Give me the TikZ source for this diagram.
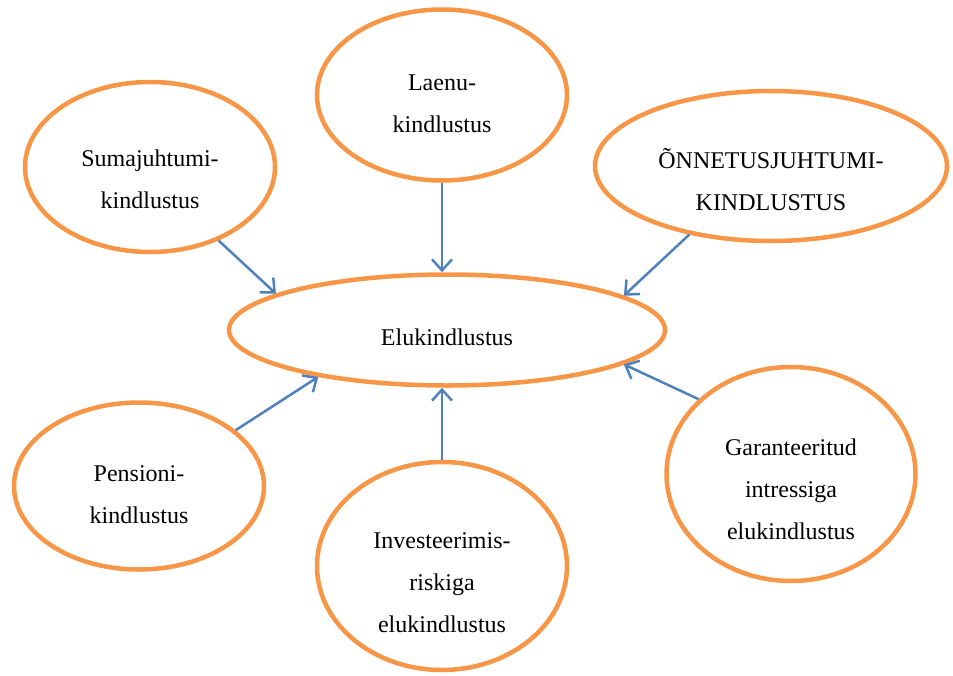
\documentclass[tikz,border=0pt]{standalone}
\usepackage{fontspec}
\setmainfont{Liberation Serif}
\usetikzlibrary{shapes.geometric,arrows.meta}
\definecolor{ringorange}{HTML}{F79646}
\definecolor{arrowblue}{HTML}{4F81BD}
\begin{document}
\begin{tikzpicture}[x=1pt,y=-1pt,
  ring/.style={ellipse,draw=ringorange,line width=4.5pt,fill=white,inner sep=0pt},
  lbl/.style={align=center,font=\fontsize{24}{42}\selectfont,inner sep=0pt},
  link/.style={draw=arrowblue,line width=2.5pt,-{Straight Barb[length=11pt,width=20pt]}}]
\useasboundingbox (0,0) rectangle (953,675);
% ellipses
\node[ring,minimum width=250pt,minimum height=170pt] (S) at (150,167) {};
\node[ring,minimum width=250pt,minimum height=171pt] (L) at (442,95) {};
\node[ring,minimum width=352pt,minimum height=150pt] (O) at (771,166) {};
\node[ring,minimum width=436pt,minimum height=111pt] (E) at (447,330) {};
\node[ring,minimum width=250pt,minimum height=167pt] (P) at (139,486) {};
\node[ring,minimum width=250pt,minimum height=208pt] (I) at (442,566) {};
\node[ring,minimum width=249pt,minimum height=214pt] (G) at (791,474) {};
% labels
\node[lbl] (tS) at (150,179) {Sumajuhtumi-\\kindlustus};
\node[lbl] (tL) at (442,104) {Laenu-\\kindlustus};
\node[lbl] (tO) at (771,180) {ÕNNETUSJUHTUMI-\\KINDLUSTUS};
\node[lbl] (tE) at (447,337) {Elukindlustus};
\node[lbl] (tP) at (139,495) {Pensioni-\\kindlustus};
\node[lbl] (tI) at (442,583) {Investeerimis-\\riskiga\\elukindlustus};
\node[lbl] (tG) at (791,489) {Garanteeritud\\intressiga\\elukindlustus};
% connectors
\draw[link] (S.-47.4) -- (E.168);
\draw[link] (L.south) -- (L.south |- E.north);
\draw[link] (O.-140.9) -- (E.11.4);
\draw[link] (P.30.7) -- (E.-160.6);
\draw[link] (I.north) -- (I.north |- E.south);
\draw[link] (G.141.8) -- (E.-11.3);
\end{tikzpicture}
\end{document}
